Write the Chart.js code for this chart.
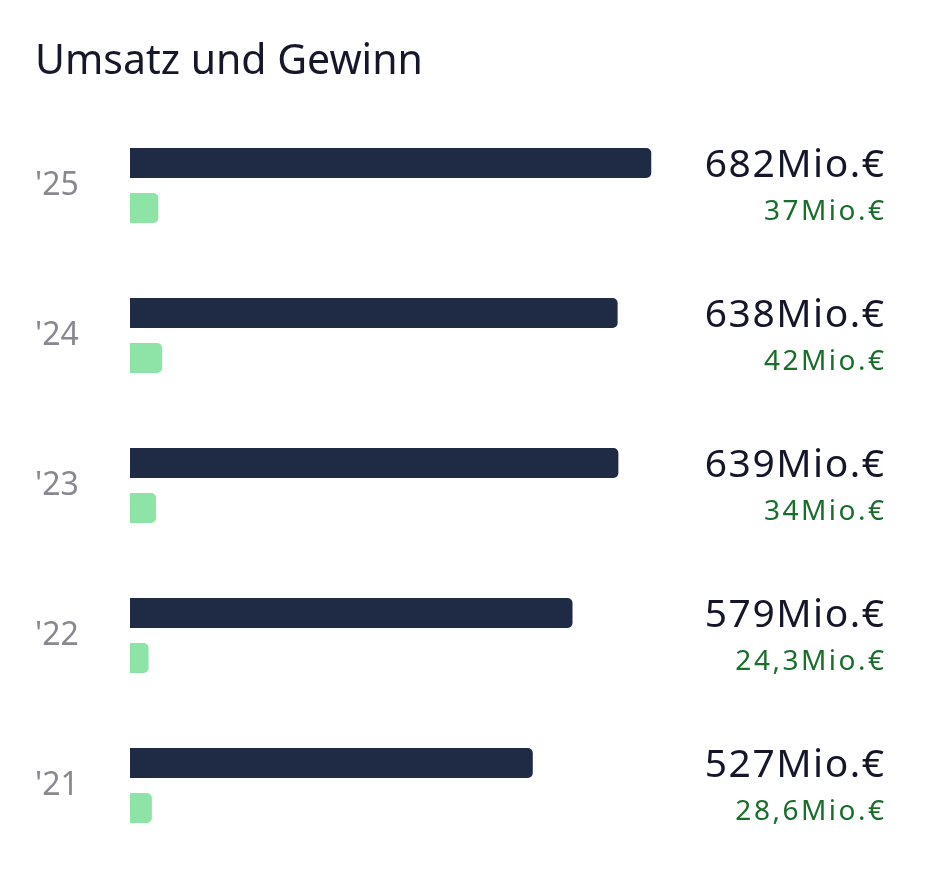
<!DOCTYPE html>
<html>
<head>
<meta charset="utf-8">
<script src="https://cdn.jsdelivr.net/npm/chart.js@4.4.0/dist/chart.umd.min.js"></script>
<style>
  html, body { margin: 0; padding: 0; background: #fff; }
  #wrap { width: 926px; height: 892px; }
</style>
</head>
<body>
<div id="wrap"><canvas id="chart" width="926" height="892"></canvas></div>
<script>
const years = ["'25", "'24", "'23", "'22", "'21"];
const umsatz = [682, 638, 639, 579, 527];
const gewinn = [37, 42, 34, 24.3, 28.6];
const umsatzLabels = ['682Mio.€', '638Mio.€', '639Mio.€', '579Mio.€', '527Mio.€'];
const gewinnLabels = ['37Mio.€', '42Mio.€', '34Mio.€', '24,3Mio.€', '28,6Mio.€'];

const FONT = '"Noto Sans", "Open Sans", sans-serif';
const NAVY = '#1f2a45';
const MINT = '#8ee4a6';

// value labels on the right, lined up with each bar
const valueLabels = {
    id: 'valueLabels',
    afterDatasetsDraw(chart) {
        const ctx = chart.ctx;
        const right = chart.width - 42;
        ctx.save();
        ctx.textAlign = 'right';
        ctx.textBaseline = 'middle';
        chart.getDatasetMeta(0).data.forEach((bar, i) => {
            ctx.font = `39px ${FONT}`;
            ctx.fillStyle = '#16162a';
            ctx.letterSpacing = '1.5px';
            ctx.fillText(umsatzLabels[i], right + 1.5, bar.y + 3);
        });
        chart.getDatasetMeta(1).data.forEach((bar, i) => {
            ctx.font = `28px ${FONT}`;
            ctx.fillStyle = '#1a6e2b';
            ctx.letterSpacing = '2.5px';
            ctx.fillText(gewinnLabels[i], right + 2.5, bar.y + 4);
        });
        ctx.restore();
    }
};

new Chart(document.getElementById('chart'), {
    type: 'bar',
    data: {
        labels: years,
        datasets: [
            { label: 'Umsatz', data: umsatz, backgroundColor: NAVY, borderRadius: 5 },
            { label: 'Gewinn', data: gewinn, backgroundColor: MINT, borderRadius: 5 }
        ]
    },
    options: {
        indexAxis: 'y',
        responsive: false,
        animation: false,
        layout: { padding: { left: 35, right: 261, top: 0, bottom: 31.5 } },
        datasets: { bar: { categoryPercentage: 0.6, barPercentage: 2 / 3 } },
        plugins: {
            legend: { display: false },
            tooltip: { enabled: false },
            title: {
                display: true,
                text: 'Umsatz und Gewinn',
                align: 'start',
                color: '#17172b',
                font: { family: FONT, size: 41, weight: 'normal', lineHeight: 1.2 },
                padding: { top: 37.4, bottom: 23.9 }
            }
        },
        scales: {
            x: { display: false, min: 0, max: 700 },
            y: {
                grid: { display: false },
                border: { display: false },
                ticks: {
                    crossAlign: 'far',
                    color: '#888890',
                    font: { family: FONT, size: 32 }
                },
                afterFit(scale) { scale.width = 95; }
            }
        }
    },
    plugins: [valueLabels]
});
</script>
</body>
</html>
